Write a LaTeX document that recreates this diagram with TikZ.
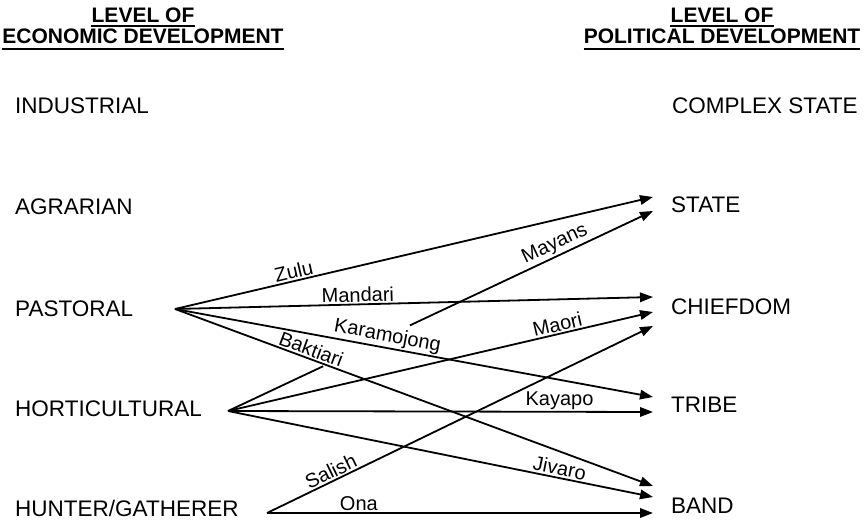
\documentclass[tikz,border=0pt]{standalone}
\usepackage{fontspec}
\setmainfont{Liberation Sans}
\usetikzlibrary{arrows.meta,calc}
\begin{document}
\begin{tikzpicture}[x=1pt,y=-1pt,
  level/.style={font=\fontsize{22.5}{26}\selectfont, inner sep=0pt, anchor=west,
                text height=16pt, text depth=0pt},
  head/.style={font=\bfseries\fontsize{21}{24}\selectfont, inner sep=0pt,
               text height=15pt, text depth=0pt},
  rule/.style={line width=1.6pt},
  link/.style={line width=1.8pt},
  arrow/.style={link, -{Triangle[length=13pt,width=9.5pt]}},
  tag/.style={font=\fontsize{20}{24}\selectfont, sloped, above, inner sep=1.5pt}
]
\useasboundingbox (0,0) rectangle (866,522);

% column headings
\node[head] (eh1) at (143,15) {LEVEL OF};
\node[head] (eh2) at (143,36) {ECONOMIC DEVELOPMENT};
\node[head] (ph1) at (722,15) {LEVEL OF};
\node[head] (ph2) at (722,36) {POLITICAL DEVELOPMENT};
\foreach \h/\d in {eh1/3pt, ph1/3pt, eh2/5pt, ph2/5pt}
  \draw[rule] ([yshift=-\d]\h.south west) -- ([yshift=-\d]\h.south east);

% economic levels
\node[level] (ind) at (15,105) {INDUSTRIAL};
\node[level] (agr) at (15,206) {AGRARIAN};
\node[level] (pas) at (15,308) {PASTORAL};
\node[level] (hor) at (15,408) {HORTICULTURAL};
\node[level] (hun) at (15,508) {HUNTER/GATHERER};

% political levels
\node[level] (cst) at (672,105) {COMPLEX STATE};
\node[level] (sta) at (671,204) {STATE};
\node[level] (chi) at (671,306) {CHIEFDOM};
\node[level] (tri) at (671,404) {TRIBE};
\node[level] (ban) at (671,505) {BAND};

% fan-out points
\coordinate (pas-o) at (175,309);
\coordinate (hor-o) at (228,411);
\coordinate (hun-o) at (267,513);

% arrow tips
\coordinate (sta-a) at (653,197);
\coordinate (sta-b) at (653,211);
\coordinate (chi-a) at (653,297);
\coordinate (chi-b) at (653,312);
\coordinate (chi-c) at (653,326);
\coordinate (tri-a) at (653,397);
\coordinate (tri-b) at (653,412);
\coordinate (ban-a) at (653,486);
\coordinate (ban-b) at (653,497);
\coordinate (ban-c) at (653,513);

% pastoral societies
\draw[arrow] (pas-o) -- node[tag,pos=0.253] (zulu) {Zulu} (sta-a);
\draw[arrow] (pas-o) -- node[tag,pos=0.383] (mand) {Mandari} (chi-a);
\draw[arrow] (pas-o) -- node[tag,pos=0.44] (kara) {Karamojong} (tri-a);
\draw[arrow] (pas-o) -- node[tag,pos=0.278] (bakt) {Baktiari} (ban-a);

% horticultural societies (the Mayans line is broken under the labels)
\coordinate (may-a) at ($(hor-o)!0.224!(sta-b)$);
\coordinate (may-b) at ($(hor-o)!0.428!(sta-b)$);
\draw[link] (hor-o) -- (may-a);
\draw[arrow] (may-b) -- node[tag,pos=0.617] (maya) {Mayans} (sta-b);
\draw[arrow] (hor-o) -- node[tag,pos=0.78] (maor) {Maori} (chi-b);
\draw[arrow] (hor-o) -- node[tag,pos=0.78] (kaya) {Kayapo} (tri-b);
\draw[arrow] (hor-o) -- node[tag,pos=0.776] (jiva) {Jivaro} (ban-b);

% hunter/gatherer societies
\draw[arrow] (hun-o) -- node[tag,pos=0.176] (sali) {Salish} (chi-c);
\draw[arrow] (hun-o) -- node[tag,pos=0.238] (ona) {Ona} (ban-c);
\end{tikzpicture}
\end{document}
